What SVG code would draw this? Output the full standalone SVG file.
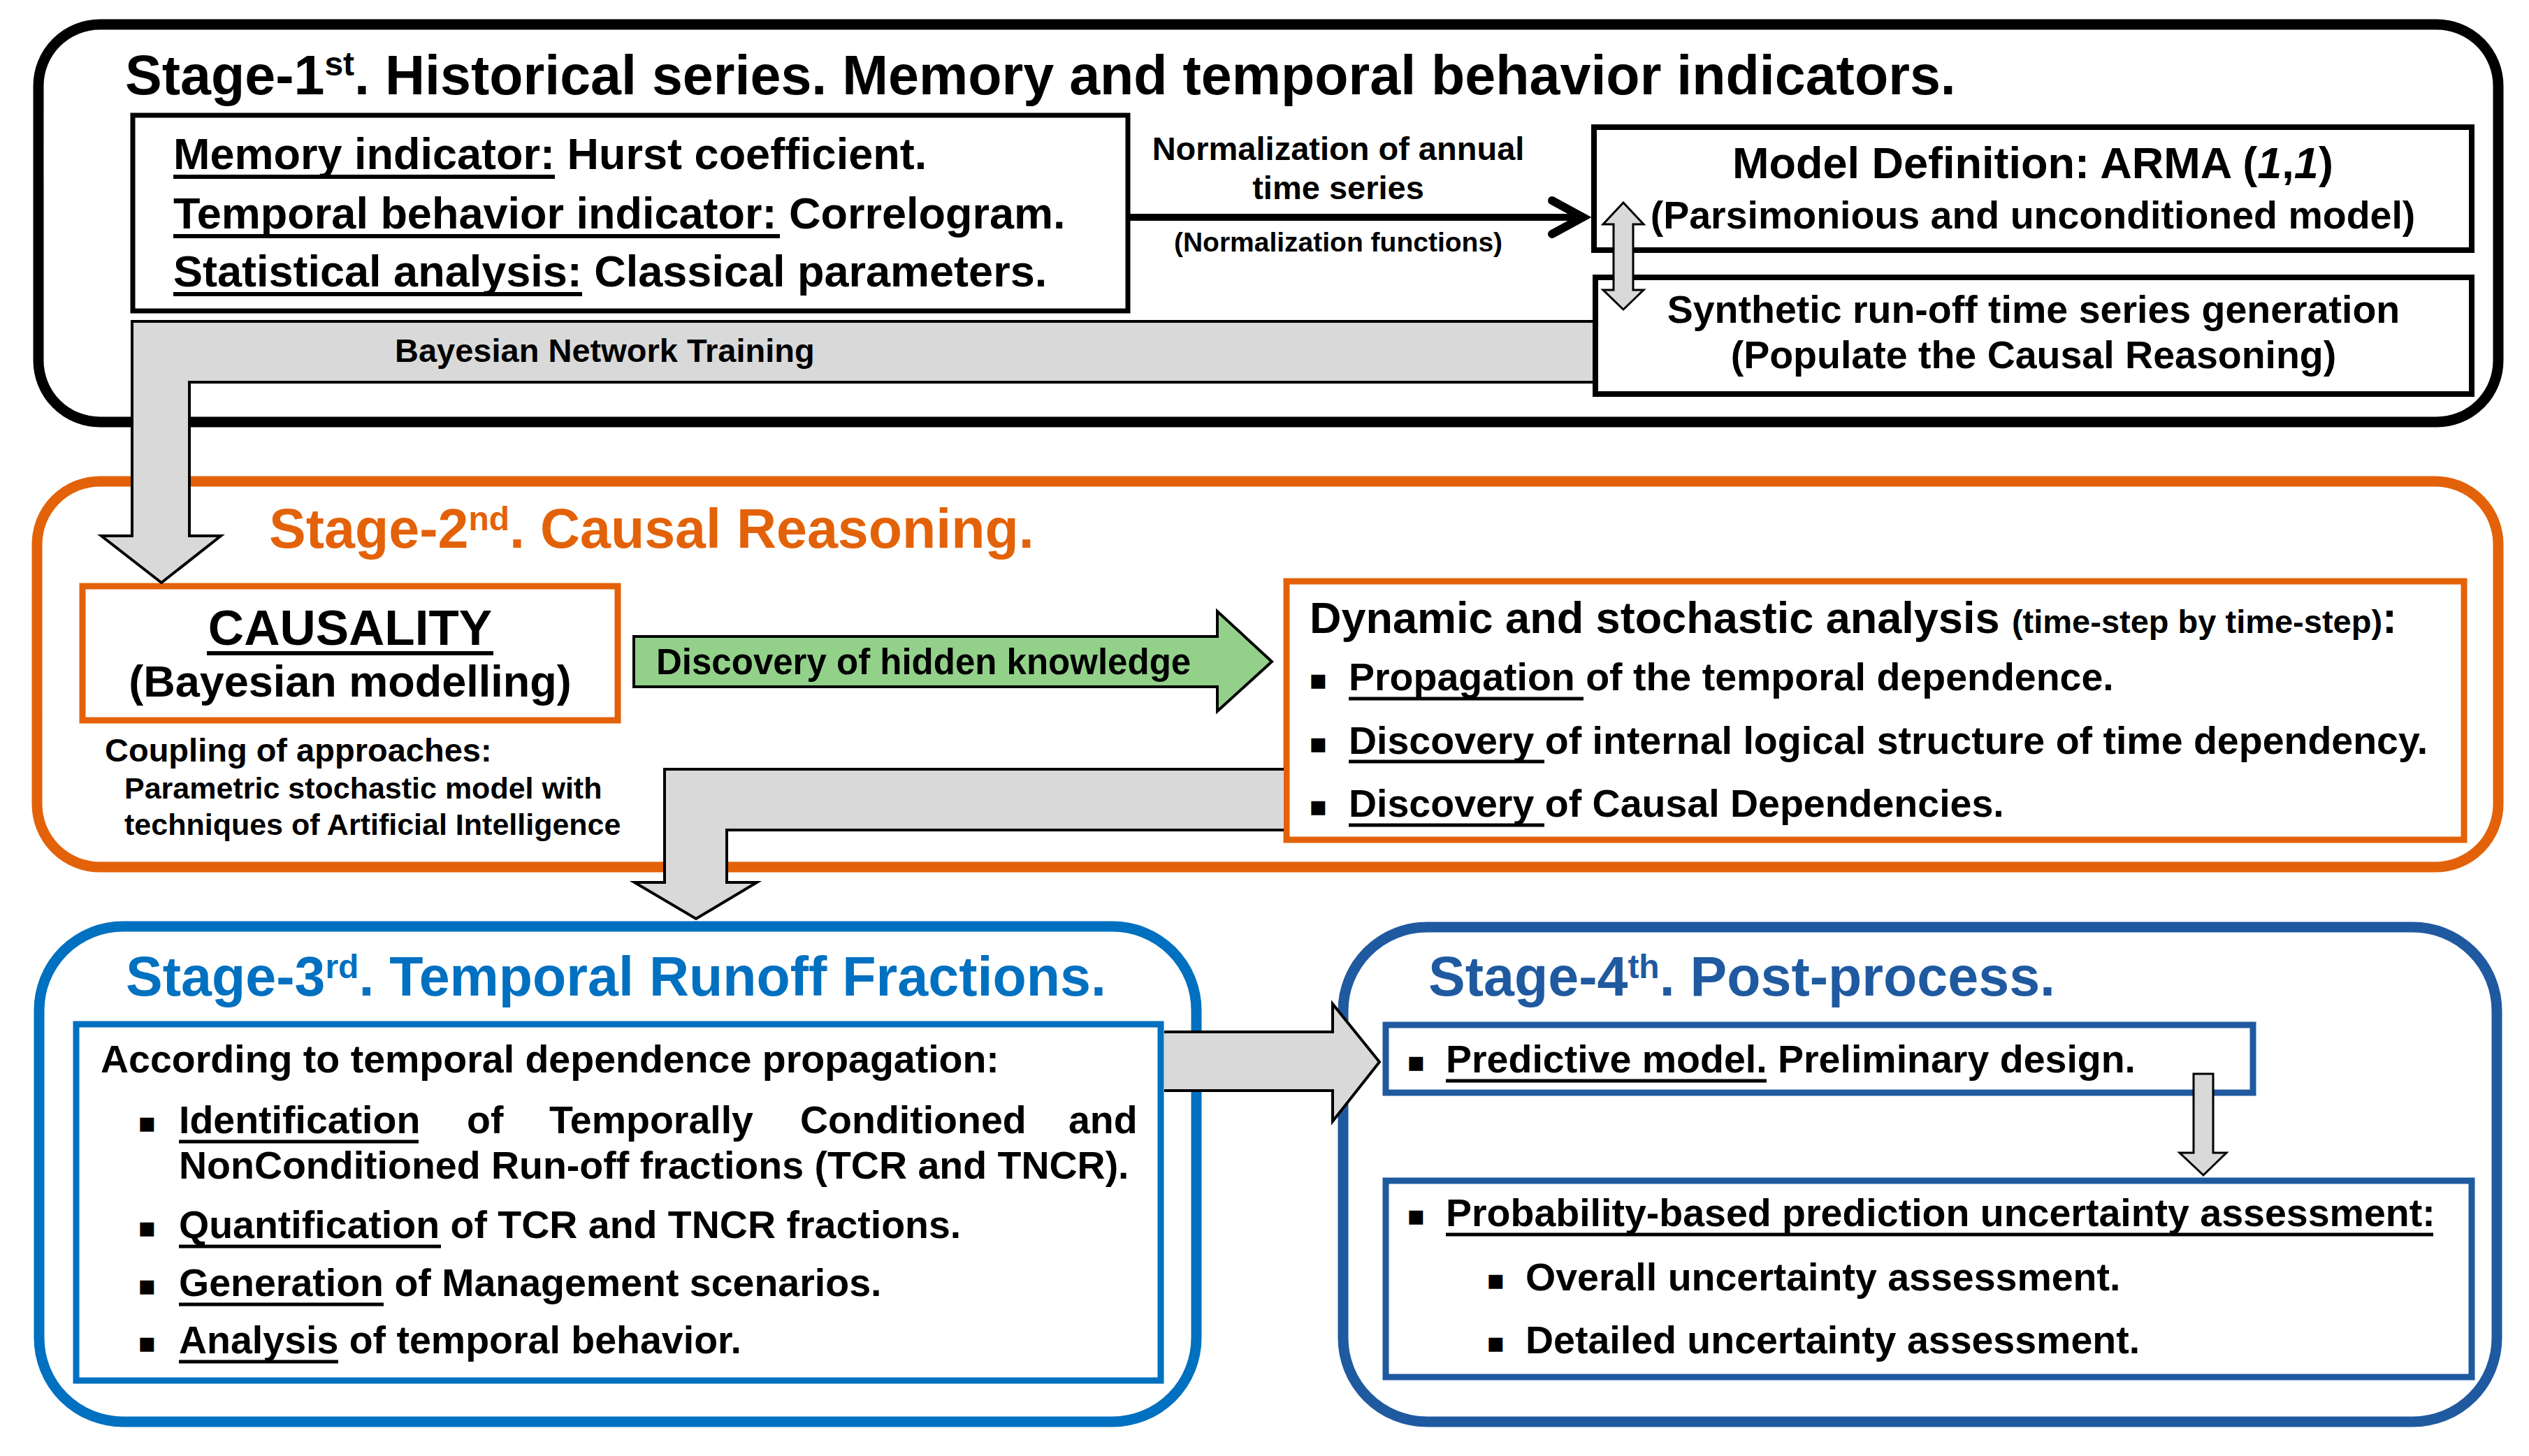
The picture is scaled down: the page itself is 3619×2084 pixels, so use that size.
<svg xmlns="http://www.w3.org/2000/svg" width="3619" height="2084" viewBox="0 0 3619 2084">
<style>
text{font-family:"Liberation Sans",Arial,sans-serif;font-weight:bold;fill:#000}
.frame{fill:none;stroke-width:15}
.box{fill:#fff;stroke-width:9}
.k{stroke:#000}
.o{stroke:#E36209}
.b{stroke:#0070C0}
.d{stroke:#1F5AA0}
.ttl{font-size:79px}
.sup{font-size:48px}
.t63{font-size:63px}
.t55{font-size:55.5px}
.t47{font-size:47px}
.t43{font-size:43px}
.ul{stroke:#000;stroke-width:6}
.ga{fill:#D9D9D9;stroke:none}
.gl{fill:none;stroke:#000;stroke-width:4;stroke-linejoin:miter}
.gp{fill:#D9D9D9;stroke:#000;stroke-width:4}
.bul{font-family:"DejaVu Sans",sans-serif;font-size:40px;font-weight:normal;text-anchor:middle}
.mid{text-anchor:middle}
</style>
<rect width="3619" height="2084" fill="#fff"/>

<g id="stage1">
<rect class="frame k" x="55" y="35" width="3520" height="569" rx="88"/>
<text class="ttl" x="179" y="135">Stage-1<tspan class="sup" dy="-27">st</tspan><tspan dy="27">. Historical series. Memory and temporal behavior indicators.</tspan></text>
</g>
<g id="stage2">
<rect class="frame o" x="53" y="689" width="3522" height="552" rx="90"/>
<text class="ttl" x="385" y="784" fill="#E36209" style="fill:#E36209">Stage-2<tspan class="sup" dy="-25">nd</tspan><tspan dy="25">. Causal Reasoning.</tspan></text>
</g>
<g id="stage3">
<rect class="frame b" x="56" y="1326" width="1656" height="709" rx="120"/>
<text class="ttl" x="180" y="1425" style="fill:#0070C0">Stage-3<tspan class="sup" dy="-25">rd</tspan><tspan dy="25">. Temporal Runoff Fractions.</tspan></text>
</g>
<g id="stage4">
<rect class="frame d" x="1922" y="1327" width="1651" height="708" rx="120"/>
<text class="ttl" x="2044" y="1425" style="fill:#1F5AA0">Stage-4<tspan class="sup" dy="-25">th</tspan><tspan dy="25">. Post-process.</tspan></text>
</g>

<g id="indicators">
<rect class="box k" x="190" y="165" width="1424" height="280" style="stroke-width:7"/>
<text class="t63" x="248" y="242">Memory indicator: Hurst coefficient.</text>
<text class="t63" x="248" y="327">Temporal behavior indicator: Correlogram.</text>
<text class="t63" x="248" y="410">Statistical analysis: Classical parameters.</text>
<line class="ul" x1="248" y1="253" x2="794" y2="253"/>
<line class="ul" x1="248" y1="338" x2="1116" y2="338"/>
<line class="ul" x1="248" y1="421" x2="833" y2="421"/>
</g>

<g id="model">
<rect class="box k" x="2281" y="182" width="1256" height="176" style="stroke-width:8"/>
<text class="t63 mid" x="2909" y="255">Model Definition: ARMA (<tspan font-style="italic">1</tspan>,<tspan font-style="italic">1</tspan>)</text>
<text class="t55 mid" x="2909" y="327">(Parsimonious and unconditioned model)</text>
</g>

<g id="synthetic">
<rect class="box k" x="2283" y="397" width="1254" height="167" style="stroke-width:8"/>
<text class="t55 mid" x="2910" y="462">Synthetic run-off time series generation</text>
<text class="t55 mid" x="2910" y="527">(Populate the Causal Reasoning)</text>
</g>

<g id="causality">
<rect class="box o" x="118" y="839" width="766" height="192"/>
<text class="mid" x="501" y="923" style="font-size:71px">CAUSALITY</text>
<line class="ul" x1="296" y1="935" x2="706" y2="935"/>
<text class="t63 mid" x="501" y="997">(Bayesian modelling)</text>
</g>

<g id="coupling">
<text class="t47" x="150" y="1090">Coupling of approaches:</text>
<text class="t43" x="178" y="1143">Parametric stochastic model with</text>
<text class="t43" x="178" y="1195">techniques of Artificial Intelligence</text>
</g>

<g id="dynamic">
<rect class="box o" x="1841" y="832" width="1685" height="370"/>
<text class="t63" x="1874" y="906">Dynamic and stochastic analysis <tspan style="font-size:47px">(time-step by time-step)</tspan>:</text>
<text class="bul" x="1886" y="986">▪</text>
<text class="t55" x="1930" y="988">Propagation of the temporal dependence.</text>
<line class="ul" x1="1930" y1="1000" x2="2266" y2="1000" style="stroke-width:5"/>
<text class="bul" x="1886" y="1077">▪</text>
<text class="t55" x="1930" y="1079">Discovery of internal logical structure of time dependency.</text>
<line class="ul" x1="1930" y1="1090" x2="2210" y2="1090" style="stroke-width:5"/>
<text class="bul" x="1886" y="1167">▪</text>
<text class="t55" x="1930" y="1169">Discovery of Causal Dependencies.</text>
<line class="ul" x1="1930" y1="1181" x2="2210" y2="1181" style="stroke-width:5"/>
</g>

<g id="fractions">
<rect class="box b" x="109" y="1466" width="1552" height="510"/>
<text class="t55" x="144" y="1535">According to temporal dependence propagation:</text>
<text class="bul" x="210" y="1620">▪</text>
<text class="t55" y="1622"><tspan x="256">Identification</tspan><tspan x="668">of</tspan><tspan x="786">Temporally</tspan><tspan x="1145">Conditioned</tspan><tspan x="1529">and</tspan></text>
<line class="ul" x1="256" y1="1634" x2="599" y2="1634" style="stroke-width:5"/>
<text class="t55" x="256" y="1687">NonConditioned Run-off fractions (TCR and TNCR).</text>
<text class="bul" x="210" y="1770">▪</text>
<text class="t55" x="256" y="1772">Quantification of TCR and TNCR fractions.</text>
<line class="ul" x1="256" y1="1784" x2="631" y2="1784" style="stroke-width:5"/>
<text class="bul" x="210" y="1853">▪</text>
<text class="t55" x="256" y="1855">Generation of Management scenarios.</text>
<line class="ul" x1="256" y1="1867" x2="549" y2="1867" style="stroke-width:5"/>
<text class="bul" x="210" y="1935">▪</text>
<text class="t55" x="256" y="1937">Analysis of temporal behavior.</text>
<line class="ul" x1="256" y1="1949" x2="484" y2="1949" style="stroke-width:5"/>
</g>

<g id="predictive">
<rect class="box d" x="1983" y="1467" width="1241" height="97"/>
<text class="bul" x="2026" y="1533">▪</text>
<text class="t55" x="2069" y="1535">Predictive model. Preliminary design.</text>
<line class="ul" x1="2069" y1="1547" x2="2528" y2="1547" style="stroke-width:5"/>
</g>

<g id="uncertainty">
<rect class="box d" x="1983" y="1690" width="1554" height="281"/>
<text class="bul" x="2026" y="1753">▪</text>
<text class="t55" x="2069" y="1755">Probability-based prediction uncertainty assessment:</text>
<line class="ul" x1="2069" y1="1767" x2="3482" y2="1767" style="stroke-width:5"/>
<text class="bul" x="2140" y="1845">▪</text>
<text class="t55" x="2183" y="1847">Overall uncertainty assessment.</text>
<text class="bul" x="2140" y="1935">▪</text>
<text class="t55" x="2183" y="1937">Detailed uncertainty assessment.</text>
</g>

<g id="connectors">
<path class="ga" d="M2279,460 L189,460 L189,767 L145,767 L231,834 L316,767 L271,767 L271,547 L2279,547 Z"/>
<path class="gl" d="M2279,460 L189,460 L189,767 L145,767 L231,834 L316,767 L271,767 L271,547 L2279,547"/>
<text class="t47" x="565" y="518">Bayesian Network Training</text>

<line x1="1614" y1="311" x2="2262" y2="311" stroke="#000" stroke-width="10"/>
<polyline points="2221,287 2265,311 2221,335" fill="none" stroke="#000" stroke-width="12" stroke-linecap="round" stroke-linejoin="miter"/>
<text class="t47 mid" x="1915" y="229">Normalization of annual</text>
<text class="t47 mid" x="1915" y="285">time series</text>
<text class="mid" x="1915" y="360" style="font-size:39px">(Normalization functions)</text>

<polygon class="gp" points="2323,290 2352,321 2337,321 2337,415 2352,415 2323,443 2294,415 2309,415 2309,321 2294,321" style="stroke-width:3"/>

<polygon points="907,911 1742,911 1742,875 1820,947 1742,1018 1742,983 907,983" fill="#93D18B" stroke="#000" stroke-width="4"/>
<text x="939" y="965" style="font-size:51px">Discovery of hidden knowledge</text>

<path class="ga" d="M1837,1101 L951,1101 L951,1263 L908,1263 L996,1315 L1083,1263 L1040,1263 L1040,1188 L1837,1188 Z"/>
<path class="gl" d="M1837,1101 L951,1101 L951,1263 L908,1263 L996,1315 L1083,1263 L1040,1263 L1040,1188 L1837,1188"/>

<path class="ga" d="M1666,1477 L1907,1477 L1907,1437 L1974,1520 L1907,1605 L1907,1561 L1666,1561 Z"/>
<path class="gl" d="M1666,1477 L1907,1477 L1907,1437 L1974,1520 L1907,1605 L1907,1561 L1666,1561"/>

<polygon class="gp" points="3139,1537 3167,1537 3167,1650 3186,1650 3153,1682 3119,1650 3139,1650" style="stroke-width:3"/>
</g>
</svg>
